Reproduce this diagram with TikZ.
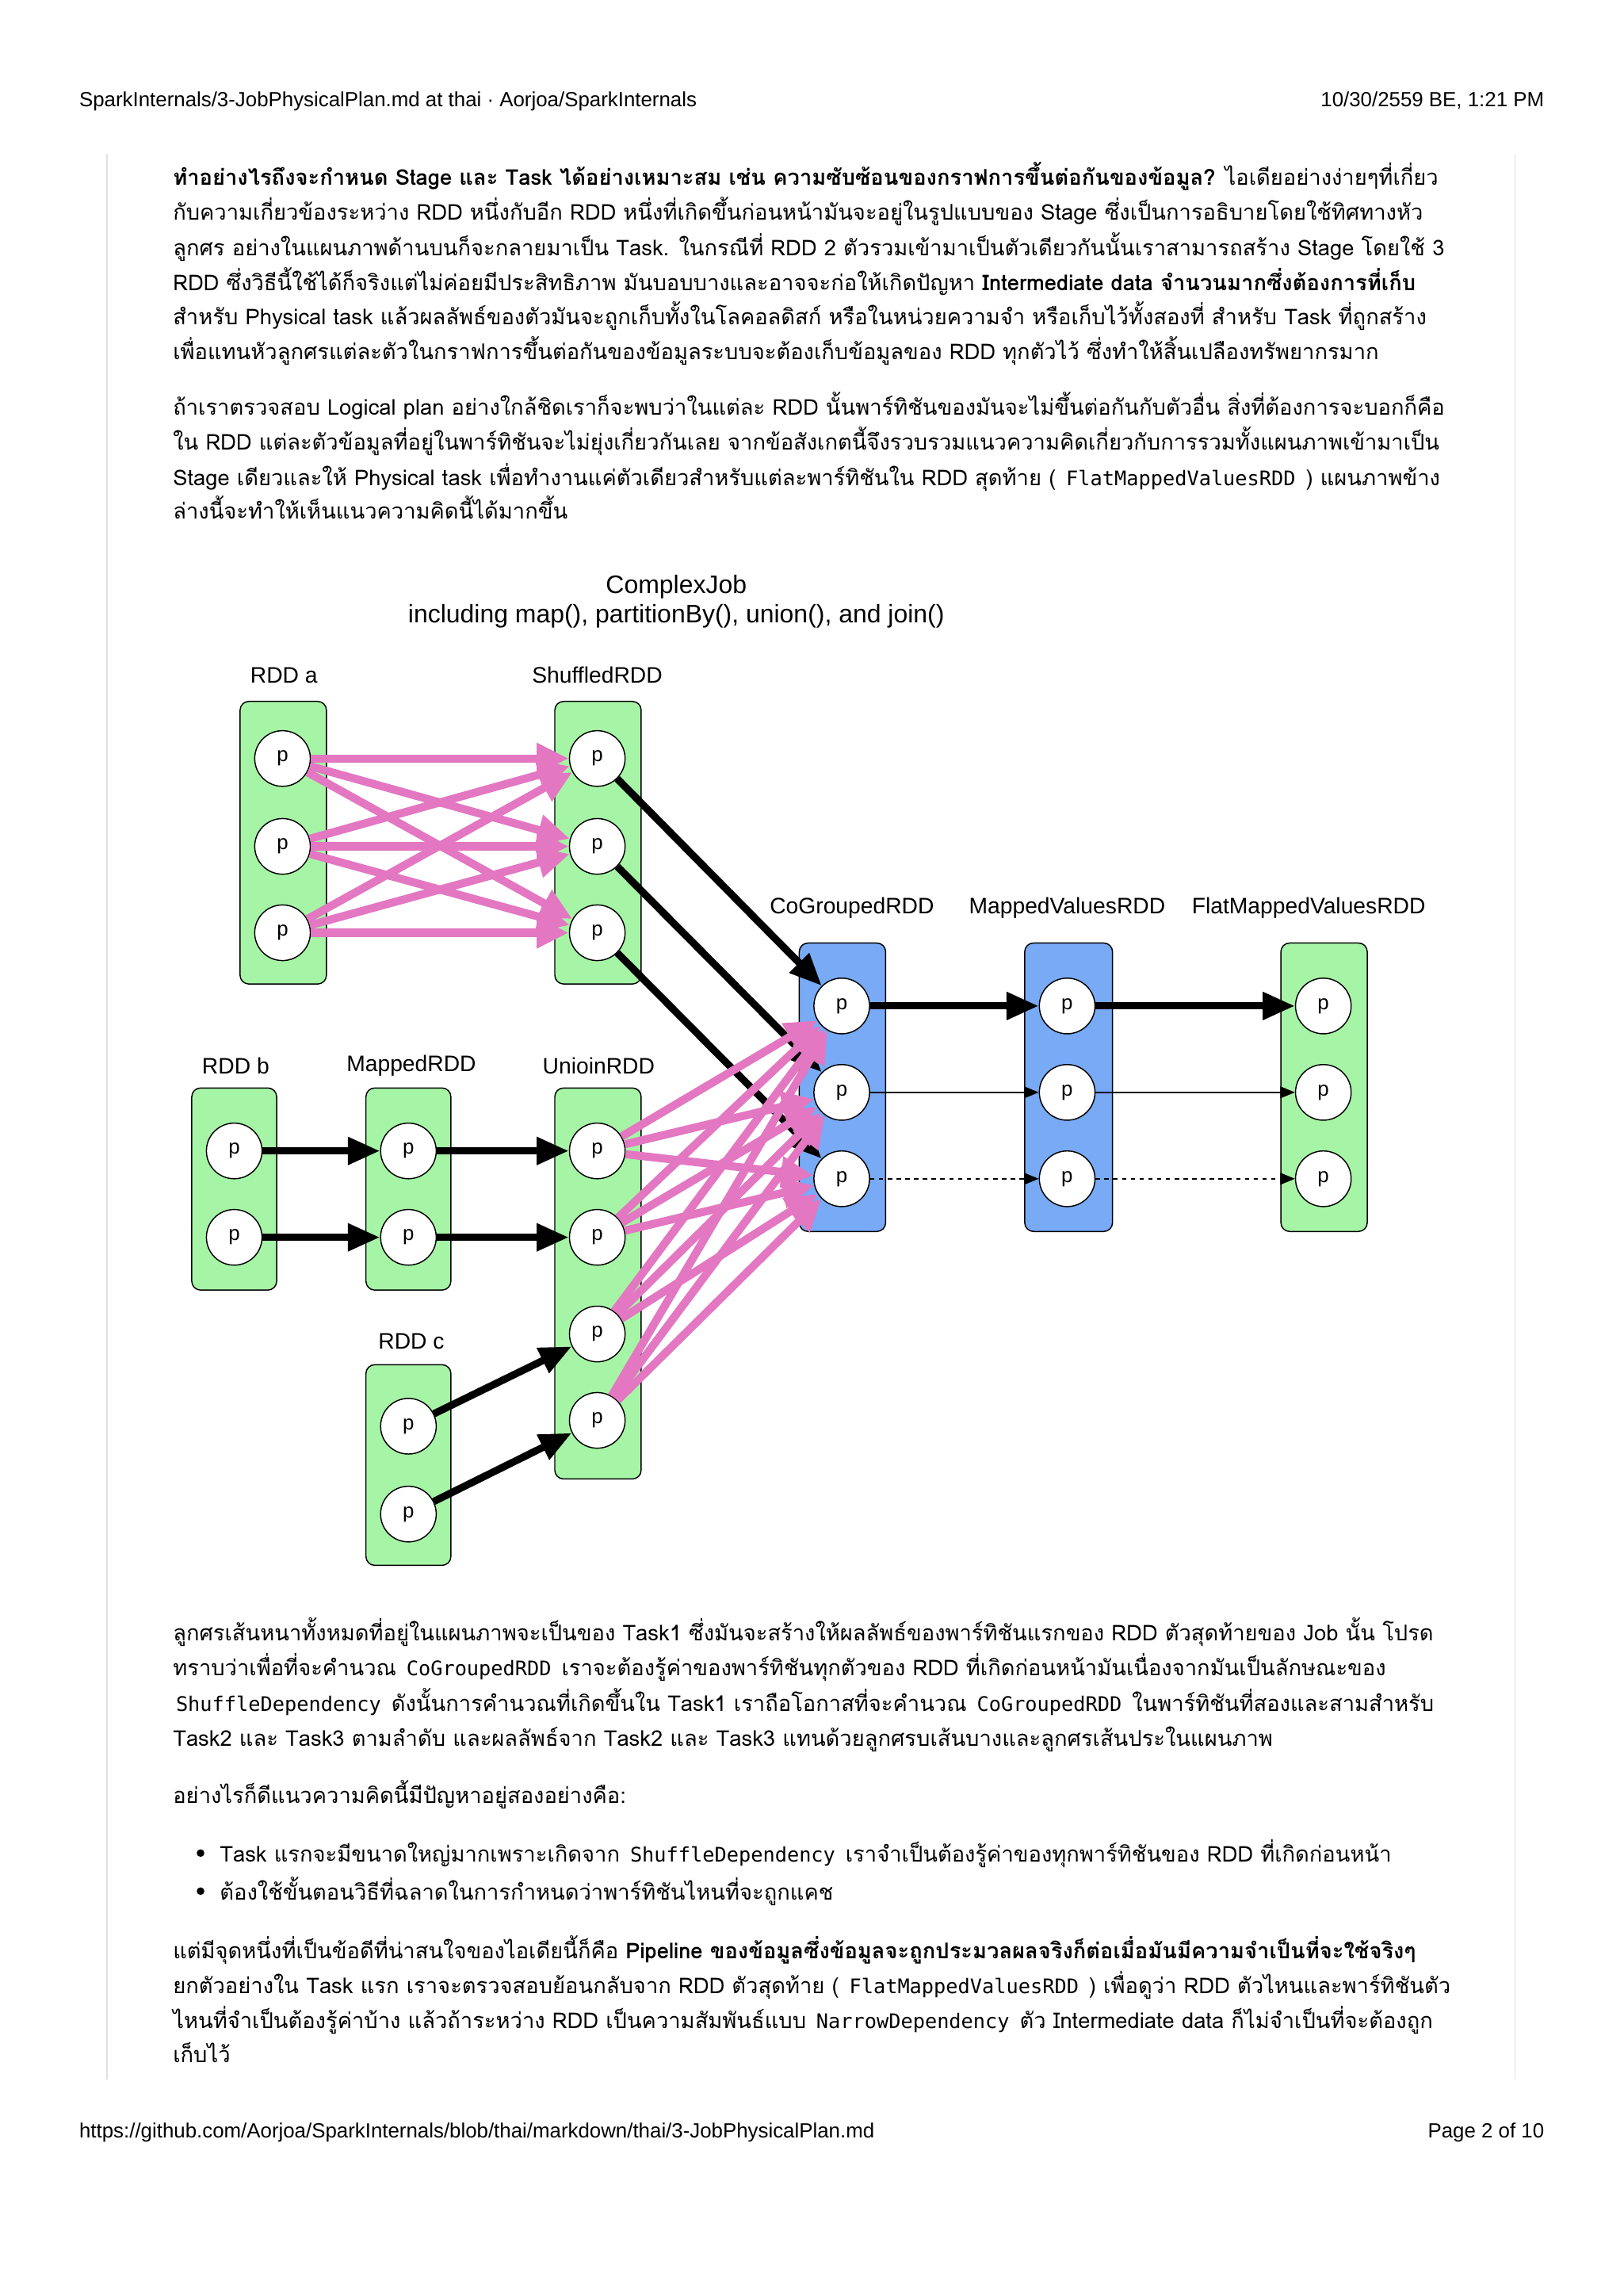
\documentclass[tikz,border=0pt]{standalone}
\usepackage{fontspec}
\setmainfont{Liberation Sans}
\newfontfamily\thai[Script=Thai]{Loma}
\newfontfamily\mono{DejaVu Sans Mono}
\usetikzlibrary{arrows.meta}
\definecolor{rddgreen}{HTML}{A6F5A6}
\definecolor{rddblue}{HTML}{78AAF5}
\definecolor{shufpink}{HTML}{E377C2}
\newcommand\cd[1]{{\mono\fontsize{13.7}{16}\selectfont\hspace{2pt}#1\hspace{2pt}}}
\tikzset{
  txt/.style={anchor=base west,inner sep=0pt,font=\thai\fontsize{14.8}{18}\selectfont},
  hdr/.style={inner sep=0pt,font=\fontsize{14}{16}\selectfont},
  rddbox/.style={draw=black,line width=0.8pt,rounded corners=6pt,fill=rddgreen,minimum width=59pt,inner sep=0pt},
  bluebox/.style={rddbox,fill=rddblue},
  part/.style={circle,draw=black,line width=0.8pt,fill=white,minimum size=38pt,inner sep=0pt,font=\fontsize{14}{16}\selectfont},
  lbl/.style={inner sep=0pt,font=\fontsize{15.3}{18}\selectfont},
  pinkarr/.style={draw=shufpink,line width=5.5pt,-{Triangle[length=22pt,width=20pt]}},
  blackarr/.style={draw=black,line width=5pt,-{Triangle[length=22pt,width=18pt]}},
  thinarr/.style={draw=black,line width=0.9pt,-{Triangle[length=10pt,width=8pt]}},
}
\begin{document}
\begin{tikzpicture}[x=1pt,y=-1pt]
\useasboundingbox (0,0) rectangle (1109,1568);
\fill[white] (0,0) rectangle (1109,1568);
% header / footer
\node[hdr,anchor=base west] (h1) at (54,73) {SparkInternals/3-JobPhysicalPlan.md at thai · Aorjoa/SparkInternals};
\node[hdr,anchor=base east] (h2) at (1055,73) {10/30/2559 BE, 1:21 PM};
\node[hdr,anchor=base west] (f1) at (54,1460) {https://github.com/Aorjoa/SparkInternals/blob/thai/markdown/thai/3-JobPhysicalPlan.md};
\node[hdr,anchor=base east] (f2) at (1055,1460) {Page 2 of 10};
\draw[black!12,line width=0.8pt] (73,105) -- (73,1420);
\draw[black!12,line width=0.8pt] (1035,105) -- (1035,1420);
% paragraph 1
\node[txt] (p11) at (118,126.5) {{\bfseries ทำอย่างไรถึงจะกำหนด Stage และ Task ได้อย่างเหมาะสม เช่น ความซับซ้อนของกราฟการขึ้นต่อกันของข้อมูล?} ไอเดียอย่างง่ายๆที่เกี่ยว};
\node[txt] (p12) at (118,150.5) {กับความเกี่ยวข้องระหว่าง RDD หนึ่งกับอีก RDD หนึ่งที่เกิดขึ้นก่อนหน้ามันจะอยู่ในรูปแบบของ Stage ซึ่งเป็นการอธิบายโดยใช้ทิศทางหัว};
\node[txt] (p13) at (118,174.5) {ลูกศร อย่างในแผนภาพด้านบนก็จะกลายมาเป็น Task. ในกรณีที่ RDD 2 ตัวรวมเข้ามาเป็นตัวเดียวกันนั้นเราสามารถสร้าง Stage โดยใช้ 3};
\node[txt] (p14) at (118,198.5) {RDD ซึ่งวิธีนี้ใช้ได้ก็จริงแต่ไม่ค่อยมีประสิทธิภาพ มันบอบบางและอาจจะก่อให้เกิดปัญหา {\bfseries Intermediate data จำนวนมากซึ่งต้องการที่เก็บ}};
\node[txt] (p15) at (118,221.5) {สำหรับ Physical task แล้วผลลัพธ์ของตัวมันจะถูกเก็บทั้งในโลคอลดิสก์ หรือในหน่วยความจำ หรือเก็บไว้ทั้งสองที่ สำหรับ Task ที่ถูกสร้าง};
\node[txt] (p16) at (118,245.5) {เพื่อแทนหัวลูกศรแต่ละตัวในกราฟการขึ้นต่อกันของข้อมูลระบบจะต้องเก็บข้อมูลของ RDD ทุกตัวไว้ ซึ่งทำให้สิ้นเปลืองทรัพยากรมาก};
% paragraph 2
\node[txt] (p21) at (118,283.5) {ถ้าเราตรวจสอบ Logical plan อย่างใกล้ชิดเราก็จะพบว่าในแต่ละ RDD นั้นพาร์ทิชันของมันจะไม่ขึ้นต่อกันกับตัวอื่น สิ่งที่ต้องการจะบอกก็คือ};
\node[txt] (p22) at (118,307.5) {ใน RDD แต่ละตัวข้อมูลที่อยู่ในพาร์ทิชันจะไม่ยุ่งเกี่ยวกันเลย จากข้อสังเกตนี้จึงรวบรวมแนวความคิดเกี่ยวกับการรวมทั้งแผนภาพเข้ามาเป็น};
\node[txt] (p23) at (118,331.5) {Stage เดียวและให้ Physical task เพื่อทำงานแค่ตัวเดียวสำหรับแต่ละพาร์ทิชันใน RDD สุดท้าย ( \cd{FlatMappedValuesRDD} ) แผนภาพข้าง};
\node[txt] (p24) at (118,354.5) {ล่างนี้จะทำให้เห็นแนวความคิดนี้ได้มากขึ้น};
% diagram title
\node[inner sep=0pt,font=\fontsize{17.3}{20}\selectfont] (t1) at (462,401) {ComplexJob};
\node[inner sep=0pt,font=\fontsize{17.3}{20}\selectfont] (t2) at (462,421) {including map(), partitionBy(), union(), and join()};
% boxes
\node[rddbox,minimum height=193pt] (bA) at (193.5,575.5) {};
\node[rddbox,minimum height=193pt] (bS) at (408.5,575.5) {};
\node[bluebox,minimum height=197pt] (bCG) at (575.5,742.5) {};
\node[bluebox,minimum height=197pt,minimum width=60pt] (bMV) at (730,742.5) {};
\node[rddbox,minimum height=197pt] (bFM) at (904.5,742.5) {};
\node[rddbox,minimum height=138pt,minimum width=58pt] (bB) at (160,812) {};
\node[rddbox,minimum height=138pt,minimum width=58pt] (bM) at (279,812) {};
\node[rddbox,minimum height=267pt] (bU) at (408.5,876.5) {};
\node[rddbox,minimum height=137pt,minimum width=58pt] (bC) at (279,1000.5) {};
% labels
\node[lbl] (lA) at (194,461) {RDD a};
\node[lbl] (lS) at (408,461) {ShuffledRDD};
\node[lbl] (lCG) at (582,620) {CoGroupedRDD};
\node[lbl] (lMV) at (729,620) {MappedValuesRDD};
\node[lbl] (lFM) at (894,620) {FlatMappedValuesRDD};
\node[lbl] (lB) at (161,728) {RDD b};
\node[lbl] (lM) at (281,728) {MappedRDD};
\node[lbl] (lU) at (409,728) {UnioinRDD};
\node[lbl] (lC) at (281,916) {RDD c};
% partitions
\node[part] (a1) at (193,518) {p};
\node[part] (a2) at (193,578) {p};
\node[part] (a3) at (193,637) {p};
\node[part] (s1) at (408,518) {p};
\node[part] (s2) at (408,578) {p};
\node[part] (s3) at (408,637) {p};
\node[part] (g1) at (575,687) {p};
\node[part] (g2) at (575,746) {p};
\node[part] (g3) at (575,805) {p};
\node[part] (v1) at (729,687) {p};
\node[part] (v2) at (729,746) {p};
\node[part] (v3) at (729,805) {p};
\node[part] (f1p) at (904,687) {p};
\node[part] (f2p) at (904,746) {p};
\node[part] (f3p) at (904,805) {p};
\node[part] (b1) at (160,786) {p};
\node[part] (b2) at (160,845) {p};
\node[part] (m1) at (279,786) {p};
\node[part] (m2) at (279,845) {p};
\node[part] (u1) at (408,786) {p};
\node[part] (u2) at (408,845) {p};
\node[part] (u3) at (408,911) {p};
\node[part] (u4) at (408,970) {p};
\node[part] (c1) at (279,974) {p};
\node[part] (c2) at (279,1034) {p};
% black arrows
\draw[blackarr] (s1) -- (g1);
\draw[blackarr] (s2) -- (g2);
\draw[blackarr] (s3) -- (g3);
\draw[blackarr] (b1) -- (m1);
\draw[blackarr] (b2) -- (m2);
\draw[blackarr] (m1) -- (u1);
\draw[blackarr] (m2) -- (u2);
\draw[blackarr] (c1) -- (u3);
\draw[blackarr] (c2) -- (u4);
\draw[blackarr] (g1) -- (v1);
\draw[blackarr] (v1) -- (f1p);
\draw[thinarr] (g2) -- (v2);
\draw[thinarr] (v2) -- (f2p);
\draw[thinarr,dashed] (g3) -- (v3);
\draw[thinarr,dashed] (v3) -- (f3p);
% pink shuffle arrows
\foreach \i in {1,2,3}{\foreach \j in {1,2,3}{\draw[pinkarr] (a\i) -- (s\j);}}
\foreach \i in {1,2,3,4}{\foreach \j in {1,2,3}{\draw[pinkarr] (u\i) -- (g\j);}}
% paragraph 3
\node[txt] (p31) at (118,1120.5) {ลูกศรเส้นหนาทั้งหมดที่อยู่ในแผนภาพจะเป็นของ Task1 ซึ่งมันจะสร้างให้ผลลัพธ์ของพาร์ทิชันแรกของ RDD ตัวสุดท้ายของ Job นั้น โปรด};
\node[txt] (p32) at (118,1144.5) {ทราบว่าเพื่อที่จะคำนวณ \cd{CoGroupedRDD} เราจะต้องรู้ค่าของพาร์ทิชันทุกตัวของ RDD ที่เกิดก่อนหน้ามันเนื่องจากมันเป็นลักษณะของ};
\node[txt] (p33) at (118,1168.5) {\cd{ShuffleDependency} ดังนั้นการคำนวณที่เกิดขึ้นใน Task1 เราถือโอกาสที่จะคำนวณ \cd{CoGroupedRDD} ในพาร์ทิชันที่สองและสามสำหรับ};
\node[txt] (p34) at (118,1192.5) {Task2 และ Task3 ตามลำดับ และผลลัพธ์จาก Task2 และ Task3 แทนด้วยลูกศรบเส้นบางและลูกศรเส้นประในแผนภาพ};
% paragraph 4 and list
\node[txt] (p41) at (118,1231.5) {อย่างไรก็ดีแนวความคิดนี้มีปัญหาอยู่สองอย่างคือ:};
\fill[black] (137,1265.5) circle (2.6pt);
\fill[black] (137,1291.5) circle (2.6pt);
\node[txt] (l1) at (150,1271.5) {Task แรกจะมีขนาดใหญ่มากเพราะเกิดจาก \cd{ShuffleDependency} เราจำเป็นต้องรู้ค่าของทุกพาร์ทิชันของ RDD ที่เกิดก่อนหน้า};
\node[txt] (l2) at (150,1297.5) {ต้องใช้ขั้นตอนวิธีที่ฉลาดในการกำหนดว่าพาร์ทิชันไหนที่จะถูกแคช};
% paragraph 5
\node[txt] (p51) at (118,1337.5) {แต่มีจุดหนึ่งที่เป็นข้อดีที่น่าสนใจของไอเดียนี้ก็คือ {\bfseries Pipeline ของข้อมูลซึ่งข้อมูลจะถูกประมวลผลจริงก็ต่อเมื่อมันมีความจำเป็นที่จะใช้จริงๆ}};
\node[txt] (p52) at (118,1361.5) {ยกตัวอย่างใน Task แรก เราจะตรวจสอบย้อนกลับจาก RDD ตัวสุดท้าย ( \cd{FlatMappedValuesRDD} ) เพื่อดูว่า RDD ตัวไหนและพาร์ทิชันตัว};
\node[txt] (p53) at (118,1385.5) {ไหนที่จำเป็นต้องรู้ค่าบ้าง แล้วถ้าระหว่าง RDD เป็นความสัมพันธ์แบบ \cd{NarrowDependency} ตัว Intermediate data ก็ไม่จำเป็นที่จะต้องถูก};
\node[txt] (p54) at (118,1408.5) {เก็บไว้};
\end{tikzpicture}
\end{document}
